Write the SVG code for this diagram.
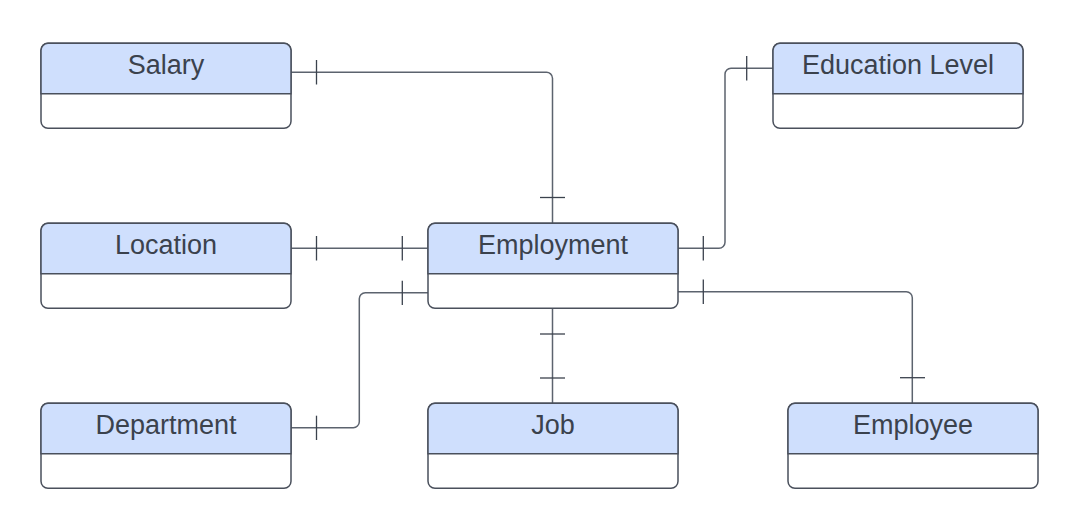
<svg xmlns="http://www.w3.org/2000/svg" width="1069" height="527" viewBox="0 0 1069 527">
<style>
.box{fill:#ffffff;stroke:#4a505c;stroke-width:1.5}
.hdr{fill:#cfdffd;stroke:#4a505c;stroke-width:1.5}
.sep{stroke:#4a505c;stroke-width:1.5}
.lbl{font-family:"Liberation Sans",Arial,sans-serif;font-size:27px;fill:#3b424d;text-anchor:middle}
.ln{fill:none;stroke:#5c636e;stroke-width:1.5}
.tk{stroke:#3b424d;stroke-width:1.3}
</style>
<rect width="1069" height="527" fill="#ffffff"/>
<defs>
<g id="ent">
<rect class="box" x="0" y="0" width="250" height="85" rx="7"/>
<path class="hdr" d="M0,50.5 V7 A7,7 0 0 1 7,0 H243 A7,7 0 0 1 250,7 V50.5 Z"/>
</g>
</defs>
<g id="connectors">
<path class="ln" d="M291,72.3 H546 A6,6 0 0 1 552.5,78.3 V223"/>
<line class="tk" x1="316.5" y1="60" x2="316.5" y2="84.5"/>
<line class="tk" x1="540" y1="197.5" x2="565" y2="197.5"/>
<path class="ln" d="M291,248.3 H428"/>
<line class="tk" x1="316.5" y1="236" x2="316.5" y2="260.5"/>
<line class="tk" x1="402.3" y1="236" x2="402.3" y2="260.5"/>
<path class="ln" d="M291,427.7 H353 A6,6 0 0 0 359.3,421.7 V298.7 A6,6 0 0 1 365.3,292.7 H428"/>
<line class="tk" x1="316.5" y1="415.7" x2="316.5" y2="440"/>
<line class="tk" x1="402.3" y1="280.7" x2="402.3" y2="305"/>
<path class="ln" d="M552.5,308 V403"/>
<line class="tk" x1="540" y1="334" x2="565" y2="334"/>
<line class="tk" x1="540" y1="378" x2="565" y2="378"/>
<path class="ln" d="M678,248.3 H719 A6,6 0 0 0 725,242.3 V74.3 A6,6 0 0 1 731,68.3 H773"/>
<line class="tk" x1="703.3" y1="236" x2="703.3" y2="260.5"/>
<line class="tk" x1="746.7" y1="56" x2="746.7" y2="80.5"/>
<path class="ln" d="M678,291.7 H906.3 A6,6 0 0 1 912.3,297.7 V403"/>
<line class="tk" x1="703.3" y1="279.5" x2="703.3" y2="304"/>
<line class="tk" x1="900" y1="377.7" x2="925" y2="377.7"/>
</g>
<g id="salary"><use href="#ent" x="41" y="43.3"/><text class="lbl" x="166" y="73.5">Salary</text></g>
<g id="location"><use href="#ent" x="41" y="223.3"/><text class="lbl" x="166" y="253.5">Location</text></g>
<g id="department"><use href="#ent" x="41" y="403.3"/><text class="lbl" x="166" y="433.5">Department</text></g>
<g id="employment"><use href="#ent" x="428" y="223.3"/><text class="lbl" x="553" y="253.5">Employment</text></g>
<g id="job"><use href="#ent" x="428" y="403.3"/><text class="lbl" x="553" y="433.5">Job</text></g>
<g id="education-level"><use href="#ent" x="773" y="43.3"/><text class="lbl" x="898" y="73.5">Education Level</text></g>
<g id="employee"><use href="#ent" x="788" y="403.3"/><text class="lbl" x="913" y="433.5">Employee</text></g>
</svg>
